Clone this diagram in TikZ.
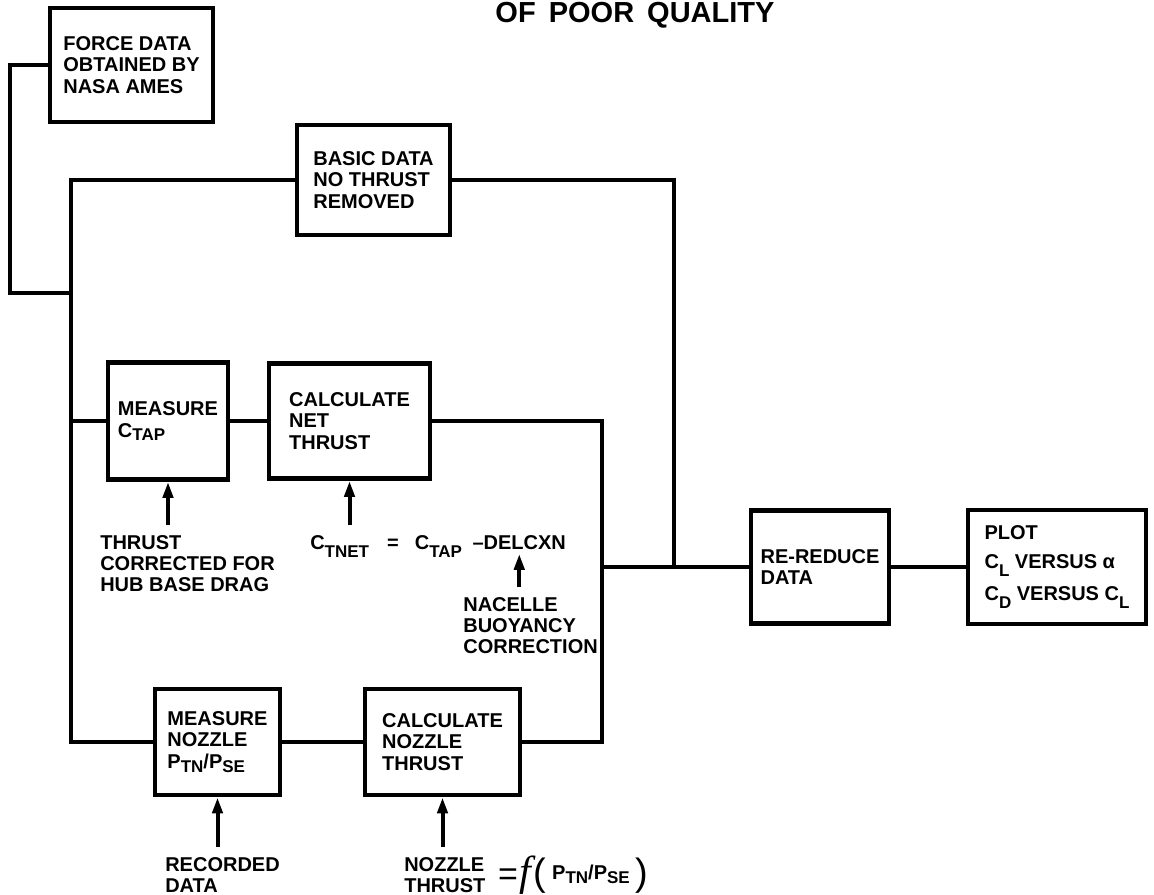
\documentclass[tikz,border=0pt]{standalone}
\usepackage{fontspec}
\setmainfont{Liberation Sans}
\newfontfamily\fnfont{Liberation Serif}
\usetikzlibrary{arrows.meta,positioning}
\newcommand{\lowsub}[2][2pt]{\raisebox{-#1}{\fontsize{8.5}{8.5}\selectfont #2}}

\begin{document}
\begin{tikzpicture}[x=0.5pt, y=-0.5pt, line width=2.3pt, >={Triangle[length=8pt,width=5pt]},
  box/.style 2 args={draw, minimum width=#1, minimum height=#2, align=left, inner sep=0pt},
  lbl/.style={align=left, inner sep=4pt, anchor=north west}]
\tikzstyle{every node} = [font=\bfseries\fontsize{10}{10.6}\selectfont]
\useasboundingbox (0,0) rectangle (1154,894);
\node[font=\bfseries\fontsize{14.5}{14.5}\selectfont] (title) at (635,15) {OF\hspace{0.45em}POOR\hspace{0.45em}QUALITY};
\node[box={81.5pt}{57pt}] (force) at (131.5,65) {FORCE DATA\\OBTAINED BY\\NASA AMES};
\node[box={76.5pt}{55pt}] (basic) at (373.5,180) {BASIC DATA\\NO THRUST\\REMOVED};
\node[box={60pt}{58.5pt}] (mtap) at (168,421) {MEASURE\\C\lowsub[1.5pt]{TAP}};
\node[box={80.5pt}{57.5pt}] (net) at (349.5,421) {CALCULATE\\NET\\THRUST};
\node[box={62.5pt}{53pt}] (mnoz) at (217.5,742) {MEASURE\\NOZZLE\\P\lowsub{TN}/P\lowsub{SE}};
\node[box={77.5pt}{53pt}] (cnoz) at (442.5,742) {CALCULATE\\NOZZLE\\THRUST};
\node[box={69pt}{56.5pt}] (rered) at (820,567) {RE-REDUCE\\DATA};
\node[box={89pt}{57pt}] (plot) at (1057,567) {PLOT\\[4pt]C\lowsub[4pt]{L} VERSUS α\\[4pt]C\lowsub[4pt]{D} VERSUS C\lowsub[4pt]{L}};
\node[lbl] (lthrust) at (90,525) {THRUST\\CORRECTED FOR\\HUB BASE DRAG};
\node[lbl] (ctnet) at (300,525) {C\lowsub[4pt]{TNET}\hspace{9pt}=\hspace{8pt}C\lowsub[4pt]{TAP}};
\node[lbl, anchor=base west, inner xsep=0pt, inner ysep=1pt] (delcxn) at ([xshift=-1pt]ctnet.base east) {--DELCXN};
\node[lbl] (nacelle) at (453,587) {NACELLE\\BUOYANCY\\CORRECTION};
\node[lbl] (recorded) at (155,847) {RECORDED\\DATA};
\node[lbl] (nozthr) at (394,847) {NOZZLE\\THRUST};
\node[right=0pt of nozthr, inner sep=0pt, font=\mdseries] (nozf) {{\fontsize{17}{17}\selectfont =}\hspace{1pt}{\fnfont\itshape\fontsize{21}{21}\selectfont f}\hspace{1pt}{\fontsize{19}{19}\selectfont (}\hspace{3pt}\raisebox{3pt}{\bfseries\fontsize{10}{10}\selectfont P\lowsub{TN}/P\lowsub{SE}}\hspace{3pt}{\fontsize{19}{19}\selectfont )}};
\coordinate (hk1) at (10,65);
\coordinate (hk2) at (10,293);
\coordinate (hk3) at (71,293);
\coordinate (ltop) at (71,180);
\coordinate (lbot) at (71,742);
\coordinate (rtop) at (674,180);
\coordinate (rjn) at (674,567);
\coordinate (mtop) at (602,421);
\coordinate (mbot) at (602,742);
\coordinate (mjn) at (602,567);
\draw (force.west) -- (hk1) -- (hk2) -- (hk3);
\draw (basic.west) -- (ltop) -- (lbot) -- (mnoz.west);
\draw (mtap.west -| ltop) -- (mtap.west);
\draw (mtap) -- (net);
\draw (net.east) -- (mtop) -- (mbot) -- (cnoz.east);
\draw (mnoz) -- (cnoz);
\draw (basic.east) -- (rtop) -- (rjn);
\draw (mjn) -- (rered.west);
\draw (rered) -- (plot);
\draw[->, line width=2pt] (mtap.south |- lthrust.north) -- (mtap.south);
\draw[->, line width=2pt] (net.south |- ctnet.north) -- (net.south);
\draw[->, line width=2pt] (delcxn.south |- nacelle.north) -- (delcxn.south);
\draw[->, line width=2pt] (mnoz.south |- recorded.north) -- (mnoz.south);
\draw[->, line width=2pt] (cnoz.south |- nozthr.north) -- (cnoz.south);
\end{tikzpicture}
\end{document}
